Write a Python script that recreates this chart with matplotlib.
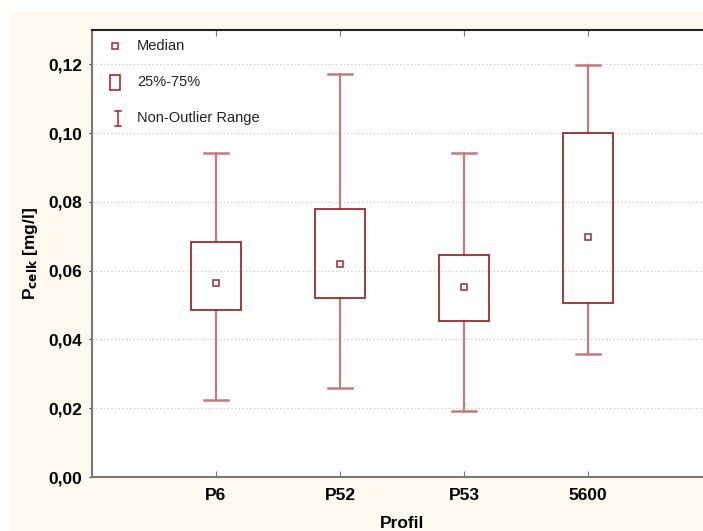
import numpy as np
import matplotlib.pyplot as plt
from matplotlib.ticker import FuncFormatter

plt.rcParams['font.family'] = ['Liberation Sans', 'DejaVu Sans']
plt.rcParams['mathtext.default'] = 'regular'

profiles = ['P6', 'P52', 'P53', '5600']
whisker_lo = [0.0224, 0.0259, 0.0192, 0.0358]
q25 = [0.0486, 0.0521, 0.0454, 0.0507]
median = [0.0565, 0.0620, 0.0553, 0.0699]
q75 = [0.0684, 0.0778, 0.0647, 0.0999]
whisker_hi = [0.0941, 0.1171, 0.0941, 0.1197]

red = '#9e2a2b'
red_light = '#c27b7c'
cream = '#fffaef'

fig = plt.figure(figsize=(7.03, 5.31), dpi=100)
fig.patch.set_facecolor('white')
# cream panel behind the plot
fig.patches.append(plt.Rectangle((10 / 703, 0), 1, 1 - 12 / 531,
                                 transform=fig.transFigure, color=cream, zorder=-10))

ax = fig.add_axes([92 / 703, 1 - 477 / 531, 620 / 703, 447 / 531])
ax.set_facecolor('white')

x = np.arange(1, len(profiles) + 1)
box_w = 0.4
cap_w = 0.2

for i in range(len(profiles)):
    xi = x[i]
    # whiskers
    ax.plot([xi, xi], [q75[i], whisker_hi[i]], color=red_light, lw=1.6, zorder=2)
    ax.plot([xi, xi], [whisker_lo[i], q25[i]], color=red_light, lw=1.6, zorder=2)
    ax.plot([xi - cap_w / 2, xi + cap_w / 2], [whisker_hi[i]] * 2, color=red_light, lw=1.8, zorder=2)
    ax.plot([xi - cap_w / 2, xi + cap_w / 2], [whisker_lo[i]] * 2, color=red_light, lw=1.8, zorder=2)
    # box
    ax.add_patch(plt.Rectangle((xi - box_w / 2, q25[i]), box_w, q75[i] - q25[i],
                               fill=False, edgecolor=red, lw=1.3, zorder=3))
    # median
    ax.plot(xi, median[i], marker='s', ms=5, mfc='white', mec=red, mew=1.1, ls='', zorder=4)

ax.set_xlim(0, 5)
ax.set_ylim(0, 0.13)
ax.set_xticks(x)
ax.set_xticklabels(profiles, fontsize=12.5, fontweight='bold')
ax.set_yticks(np.arange(0, 0.121, 0.02))
ax.yaxis.set_major_formatter(FuncFormatter(lambda v, p: f'{v:.2f}'.replace('.', ',')))
for lab in ax.get_yticklabels():
    lab.set_fontsize(12.5)
    lab.set_fontweight('bold')

ax.tick_params(axis='x', direction='in', length=4, color='#777777', top=True, pad=8)
ax.tick_params(axis='y', direction='out', length=2, color='#333333', pad=5)

ax.grid(axis='y', color='#c8c8c8', ls=(0, (1, 2)), lw=0.9)
ax.set_axisbelow(True)

ax.spines['right'].set_visible(False)
ax.spines['top'].set_color('#222222')
ax.spines['top'].set_linewidth(1.5)
ax.spines['left'].set_color('#777777')
ax.spines['left'].set_linewidth(1.5)
ax.spines['bottom'].set_color('#777777')
ax.spines['bottom'].set_linewidth(1.5)

ax.set_xlabel('Profil', fontsize=12.5, fontweight='bold', labelpad=9)
ax.set_ylabel(r'P$_{\mathbf{celk}}$ [mg/l]', fontsize=12.5, fontweight='bold', labelpad=6)

# legend drawn by hand in axes coordinates
tr = ax.transAxes
def ax_xy(px, py):
    return ((px - 92) / 620, (477 - py) / 447)

mx, my = ax_xy(115, 46)
ax.plot(mx, my, marker='s', ms=5, mfc='white', mec=red, mew=1.1, transform=tr, clip_on=False)
tx, ty = ax_xy(137, 46)
ax.text(tx, ty, 'Median', fontsize=10.5, va='center', color='#222222', transform=tr)

rx0, ry0 = ax_xy(110, 90)
rx1, ry1 = ax_xy(120, 75)
ax.add_patch(plt.Rectangle((rx0, ry0), rx1 - rx0, ry1 - ry0, fill=False,
                           edgecolor=red, lw=1.2, transform=tr))
tx, ty = ax_xy(137, 82)
ax.text(tx, ty, '25%-75%', fontsize=10.5, va='center', color='#222222', transform=tr)

bx, by0 = ax_xy(118, 126)
_, by1 = ax_xy(118, 111)
cx0, _ = ax_xy(115, 0)
cx1, _ = ax_xy(121, 0)
ax.plot([bx, bx], [by0, by1], color=red, lw=1.1, transform=tr)
ax.plot([cx0, cx1], [by0, by0], color=red, lw=1.1, transform=tr)
ax.plot([cx0, cx1], [by1, by1], color=red, lw=1.1, transform=tr)
tx, ty = ax_xy(137, 118)
ax.text(tx, ty, 'Non-Outlier Range', fontsize=10.5, va='center', color='#222222', transform=tr)

fig.savefig('out.png', dpi=100, facecolor=fig.get_facecolor())
